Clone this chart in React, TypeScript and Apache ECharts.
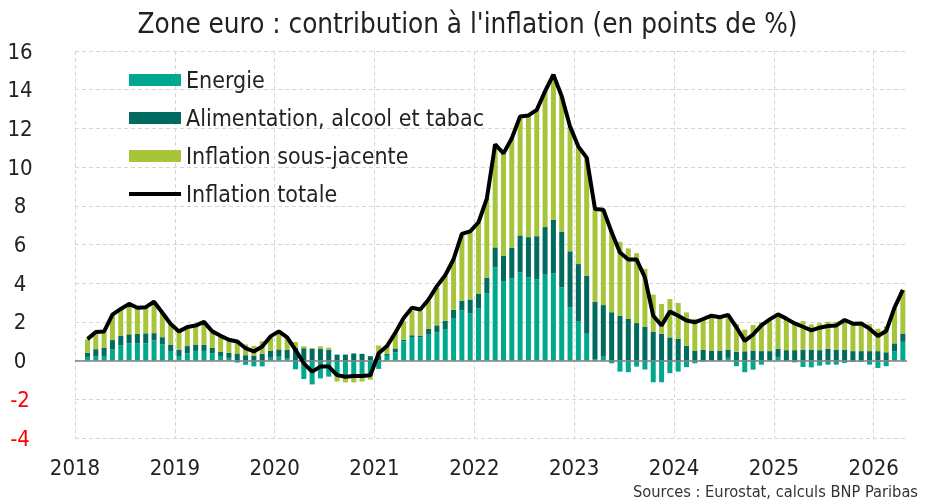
import React, { useEffect, useRef } from "react";
import * as echarts from "echarts";

const FONT = "'Liberation Sans Narrow', 'Arial Narrow', 'DejaVu Sans Condensed', sans-serif";

const START_YEAR = 2018;
const MONTH_SLOTS = 100; // Jan 2018 -> Apr 2026
const FIRST_MONTH_OFFSET = 1; // first observation: February 2018
const yearLabels = ["2018", "2019", "2020", "2021", "2022", "2023", "2024", "2025", "2026"];
const seriesNames = ["Energie", "Alimentation, alcool et tabac", "Inflation sous-jacente", "Inflation totale"];

// Feb 2018 -> Apr 2026, points de %
const energie = [
  0.19, 0.21, 0.24, 0.57, 0.78, 0.89, 0.89, 0.89, 1.04, 0.83, 0.5,
  0.24, 0.37, 0.5, 0.5, 0.38, 0.24, 0.14, -0.1, -0.22, -0.3, -0.3, 0.15,
  0.2, 0.1, -0.45, -0.95, -1.23, -0.92, -0.83, -0.82, -0.85, -0.82, -0.85, -0.73,
  -0.43, 0.25, 0.43, 0.99, 1.22, 1.2, 1.34, 1.46, 1.63, 2.2, 2.59, 2.43,
  2.69, 3.47, 4.81, 4.11, 4.26, 4.56, 4.3, 4.21, 4.44, 4.51, 3.78, 2.74,
  2.01, 1.39, 0.05, 0.2, -0.14, -0.57, -0.6, -0.31, -0.46, -1.12, -1.12, -0.65,
  -0.57, -0.34, -0.14, -0.05, 0, 0, 0.14, -0.29, -0.6, -0.47, -0.21, 0,
  0.19, -0.03, -0.09, -0.33, -0.35, -0.26, -0.21, -0.21, -0.12, -0.07, -0.07, -0.21,
  -0.38, -0.29, 0.49, 0.97,
];

const alimentation = [
  0.21, 0.38, 0.43, 0.49, 0.49, 0.47, 0.49, 0.52, 0.38, 0.38, 0.33,
  0.33, 0.38, 0.33, 0.31, 0.28, 0.21, 0.26, 0.37, 0.28, 0.26, 0.35, 0.35,
  0.38, 0.45, 0.66, 0.64, 0.6, 0.6, 0.55, 0.31, 0.31, 0.37, 0.35, 0.23,
  0.28, 0.1, 0.2, 0.09, 0.09, 0.09, 0.3, 0.36, 0.43, 0.42, 0.49, 0.73,
  0.78, 0.82, 1.04, 1.3, 1.56, 1.91, 2.08, 2.22, 2.46, 2.77, 2.89, 2.91,
  2.98, 3.0, 3.0, 2.67, 2.5, 2.32, 2.15, 1.94, 1.76, 1.5, 1.38, 1.2,
  1.12, 0.77, 0.52, 0.55, 0.52, 0.52, 0.43, 0.46, 0.48, 0.52, 0.49, 0.49,
  0.42, 0.54, 0.54, 0.57, 0.57, 0.54, 0.61, 0.57, 0.57, 0.49, 0.49, 0.49,
  0.49, 0.43, 0.4, 0.43,
];

const sousJacente = [
  0.7, 0.85, 0.82, 1.3, 1.4, 1.55, 1.35, 1.35, 1.6, 1.25, 1.05,
  0.93, 0.97, 0.97, 1.1, 0.8, 0.8, 0.65, 0.7, 0.55, 0.5, 0.65, 0.75,
  0.9, 0.62, 0.3, 0.1, 0.05, 0.14, 0.12, -0.26, -0.28, -0.31, -0.23, -0.26,
  0.5, 0.4, 0.83, 0.95, 1.25, 1.27, 1.44, 1.94, 2.31, 2.62, 3.47, 3.47,
  3.68, 4.08, 5.3, 5.38, 5.67, 6.15, 6.29, 6.53, 7.02, 7.5, 6.98, 6.45,
  6.07, 6.1, 4.78, 4.93, 4.22, 3.82, 3.65, 3.61, 2.98, 1.91, 1.55, 1.98,
  1.86, 1.72, 1.64, 1.6, 1.75, 1.68, 1.76, 1.43, 1.12, 1.32, 1.5, 1.6,
  1.79, 1.6, 1.42, 1.47, 1.3, 1.39, 1.4, 1.44, 1.59, 1.47, 1.51, 1.39,
  1.16, 1.35, 1.85, 2.25,
];

const totale = [
  1.11, 1.48, 1.51, 2.38, 2.67, 2.93, 2.73, 2.76, 3.04, 2.47, 1.89,
  1.51, 1.74, 1.81, 2.0, 1.51, 1.28, 1.08, 0.99, 0.64, 0.47, 0.73, 1.25,
  1.51, 1.2, 0.56, -0.14, -0.57, -0.31, -0.31, -0.75, -0.83, -0.8, -0.8, -0.76,
  0.38, 0.75, 1.44, 2.2, 2.73, 2.64, 3.16, 3.85, 4.41, 5.24, 6.55, 6.68,
  7.15, 8.37, 11.18, 10.71, 11.49, 12.62, 12.67, 12.96, 13.92, 14.78, 13.66, 12.1,
  11.06, 10.49, 7.84, 7.8, 6.63, 5.59, 5.22, 5.22, 4.3, 2.32, 1.81, 2.53,
  2.32, 2.07, 1.98, 2.15, 2.32, 2.24, 2.36, 1.72, 1.02, 1.35, 1.82, 2.13,
  2.39, 2.17, 1.92, 1.75, 1.56, 1.7, 1.79, 1.82, 2.1, 1.91, 1.92, 1.65,
  1.27, 1.53, 2.74, 3.66,
];

const COLORS = {
  energie: "#00a98e",
  alimentation: "#006b5e",
  sousJacente: "#a7c53b",
  totale: "#000000",
};

// month categories Jan 2018 .. Apr 2026
const monthCategories: string[] = Array.from({ length: MONTH_SLOTS }, (_, i) => {
  const y = START_YEAR + Math.floor(i / 12);
  const m = (i % 12) + 1;
  return `${y}-${m < 10 ? "0" + m : m}`;
});

// align a series (starting at FIRST_MONTH_OFFSET) to the month categories
const align = (arr: number[]) => [...Array(FIRST_MONTH_OFFSET).fill(null), ...arr];

export default function App() {
  const ref = useRef<HTMLDivElement>(null);

  useEffect(() => {
    document.body.style.margin = "0";
    const chart = echarts.init(ref.current!, null, { renderer: "svg" });
    const barCommon = {
      type: "bar",
      stack: "contrib",
      barWidth: 5,
      xAxisIndex: 1,
    };
    chart.setOption({
      animation: false,
      textStyle: { fontFamily: FONT },
      title: {
        text: "Zone euro : contribution à l'inflation (en points de %)",
        left: "center",
        top: 4,
        textStyle: { fontFamily: FONT, fontSize: 27.6, fontWeight: "normal", color: "#222" },
      },
      legend: {
        orient: "vertical",
        left: 127,
        top: 68,
        padding: 0,
        itemWidth: 52,
        itemHeight: 12,
        itemGap: 14,
        data: [
          { name: seriesNames[0], icon: "rect" },
          { name: seriesNames[1], icon: "rect" },
          { name: seriesNames[2], icon: "rect" },
          { name: seriesNames[3], itemStyle: { opacity: 0 }, lineStyle: { width: 4, color: "#000" } },
        ],
        textStyle: { fontFamily: FONT, fontSize: 23, color: "#222", lineHeight: 24 },
      },
      grid: { left: 75, right: 28, top: 51, bottom: 64 },
      xAxis: [
        {
          type: "value",
          min: 0,
          max: MONTH_SLOTS,
          interval: 12,
          axisLine: { show: false },
          axisTick: { show: false },
          axisLabel: {
            fontSize: 22,
            color: "#222",
            margin: 18,
            fontFamily: FONT,
            showMaxLabel: false,
            formatter: (v: number) => (v % 12 === 0 ? yearLabels[v / 12] ?? "" : ""),
          },
          splitLine: {
            show: true,
            showMaxLine: false,
            lineStyle: { color: "#d6d6d6", type: [4, 3], width: 1 },
          },
        },
        {
          type: "category",
          data: monthCategories,
          boundaryGap: true,
          show: false,
        },
      ],
      yAxis: {
        type: "value",
        min: -4,
        max: 16,
        interval: 2,
        axisLine: { show: false },
        axisTick: { show: false },
        axisLabel: {
          fontSize: 22,
          fontFamily: FONT,
          align: "center",
          margin: 55,
          color: (v: any) => (Number(v) < 0 ? "#ff0000" : "#222"),
        },
        splitLine: { show: true, lineStyle: { color: "#d6d6d6", type: [4, 3], width: 1 } },
      },
      series: [
        {
          ...barCommon,
          name: seriesNames[0],
          itemStyle: { color: COLORS.energie },
          data: align(energie),
          markLine: {
            silent: true,
            symbol: ["none", "none"],
            label: { show: false },
            lineStyle: { color: "#808080", width: 1.5, type: "solid" },
            data: [{ yAxis: 0 }],
          },
        },
        { ...barCommon, name: seriesNames[1], itemStyle: { color: COLORS.alimentation }, data: align(alimentation) },
        { ...barCommon, name: seriesNames[2], itemStyle: { color: COLORS.sousJacente }, data: align(sousJacente) },
        {
          type: "line",
          name: seriesNames[3],
          xAxisIndex: 1,
          data: align(totale),
          symbol: "none",
          z: 10,
          lineStyle: { color: COLORS.totale, width: 4 },
          itemStyle: { color: COLORS.totale },
        },
      ],
      graphic: [
        {
          type: "text",
          right: 17,
          bottom: 3,
          style: {
            text: "Sources : Eurostat, calculs BNP Paribas",
            fontSize: 16.3,
            fontFamily: FONT,
            fill: "#333",
          },
        },
      ],
    });
    return () => chart.dispose();
  }, []);

  return <div ref={ref} style={{ position: "fixed", left: 0, top: 0, width: 935, height: 502 }} />;
}
